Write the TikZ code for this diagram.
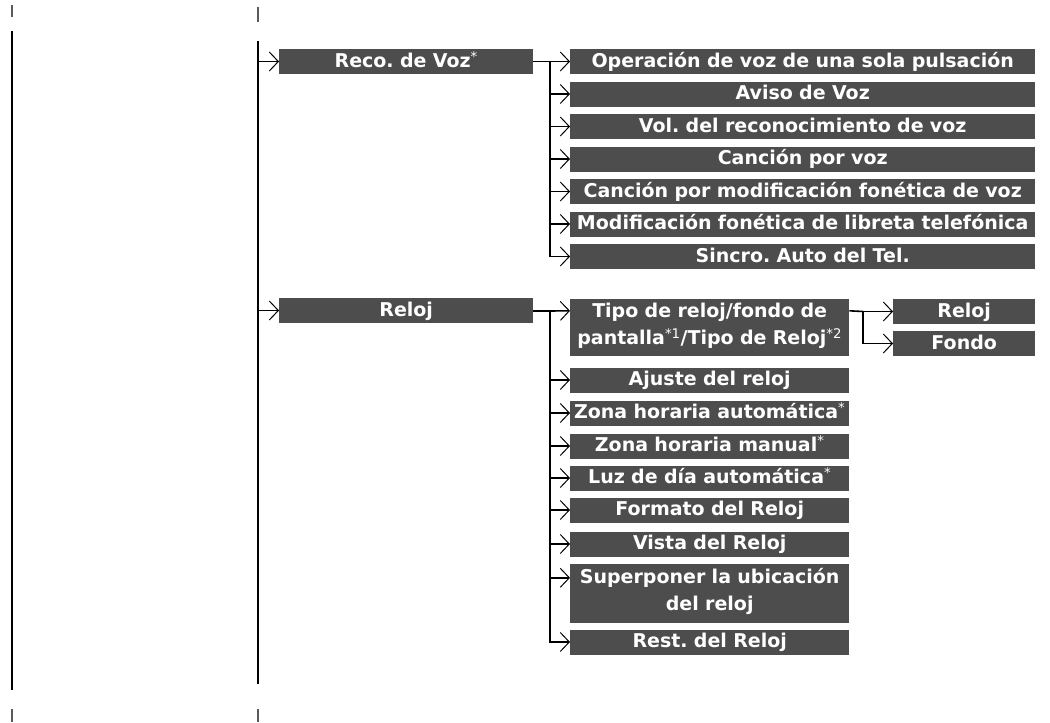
\documentclass[tikz,border=0pt]{standalone}
\usepackage{fontspec}
\setmainfont{DejaVu Sans}
\usetikzlibrary{arrows.meta}
\definecolor{menuGray}{RGB}{77,77,77}
\definecolor{cropGray}{RGB}{90,90,90}
\newcommand{\optmark}[1][]{\textsuperscript{\mdseries *#1}}
\frenchspacing

\begin{document}
\begin{tikzpicture}[x=1pt,y=-1pt,
  menu/.style={fill=menuGray,text=white,font=\fontsize{19}{27.3}\selectfont\bfseries,
    anchor=west,inner sep=0pt,minimum height=25pt,align=center,
    text height=13.3pt,text depth=1.7pt},
  twoline/.style={text depth=33.1pt},
  lvlA/.style={menu,minimum width=254pt,text width=254pt},
  lvlB/.style={menu,minimum width=465pt,text width=465pt},
  lvlR/.style={menu,minimum width=279pt,text width=279pt},
  lvlC/.style={menu,minimum width=142pt,text width=142pt},
  link/.style={line width=1.6pt},
  pick/.style={line width=1.6pt,-{Straight Barb[length=9pt,width=19pt,line width=1pt]}},
  crop/.style={line width=1.2pt,cropGray}]
  \useasboundingbox (0,0) rectangle (1050,723);
  % crop marks
  \draw[crop] (12,5) -- (12,17);
  \draw[crop] (258,7) -- (258,22);
  \draw[crop] (12,709) -- (12,722);
  \draw[crop] (258,709) -- (258,722);
  % page rule and trunk
  \draw[link] (12,31) -- (12,690);
  \coordinate (trunkTop) at (258,41);
  \coordinate (trunkBot) at (258,684);
  \draw[link] (trunkTop) -- (trunkBot);
  % first level
  \node[lvlA] (reco) at (279,61.5) {Reco. de Voz\optmark};
  \node[lvlA] (reloj) at (279,310.5) {Reloj};
  \draw[pick] (reco.west -| trunkTop) -- (reco.west);
  \draw[pick] (reloj.west -| trunkTop) -- (reloj.west);
  % voice items
  \foreach [count=\i from 0] \t in {Operación de voz de una sola pulsación,Aviso de Voz,
      Vol. del reconocimiento de voz,Canción por voz,Canción por modificación fonética de voz,
      Modificación fonética de libreta telefónica,Sincro. Auto del Tel.} {
    \node[lvlB] (voz\i) at (570,61.5+\i*32.5) {\t};
  }
  \coordinate (vozJoin) at (550,61.5);
  \draw[link] (reco.east) -- (vozJoin);
  \foreach \i in {0,...,6} {
    \draw[pick] (vozJoin) |- (voz\i.west);
  }
  % clock items
  \node[lvlR,twoline,minimum height=57pt] (tipo) at (570,327.5)
    {Tipo de reloj/fondo de\\pantalla\optmark[1]/Tipo de Reloj\optmark[2]};
  \foreach \n/\y/\t in {ajuste/380/Ajuste del reloj,zonaAuto/413/Zona horaria automática\optmark,
      zonaMan/446/Zona horaria manual\optmark,luz/478/Luz de día automática\optmark,
      formato/510/Formato del Reloj,vista/544/Vista del Reloj,rest/642/Rest. del Reloj} {
    \node[lvlR] (\n) at (570,\y) {\t};
  }
  \node[lvlR,twoline,minimum height=59pt] (superp) at (570,593.5)
    {Superponer la ubicación\\del reloj};
  \coordinate (relojJoin) at (550,311);
  \draw[link] (reloj.east |- relojJoin) -- (relojJoin);
  \draw[pick] (relojJoin) -- ([yshift=-12pt]tipo.north west);
  \foreach \n in {ajuste,zonaAuto,zonaMan,luz,formato,vista,rest} {
    \draw[pick] (relojJoin) |- (\n.west);
  }
  \draw[pick] (relojJoin) |- ([yshift=-14pt]superp.north west);
  % clock type items
  \node[lvlC] (tipoReloj) at (893,311.5) {Reloj};
  \node[lvlC] (tipoFondo) at (893,343.5) {Fondo};
  \coordinate (tipoJoin) at (863,311.5);
  \draw[link] ([yshift=-12pt]tipo.north east) -- (tipoJoin);
  \draw[pick] (tipoJoin) -- (tipoReloj.west);
  \draw[pick] (tipoJoin) |- (tipoFondo.west);
\end{tikzpicture}
\end{document}
